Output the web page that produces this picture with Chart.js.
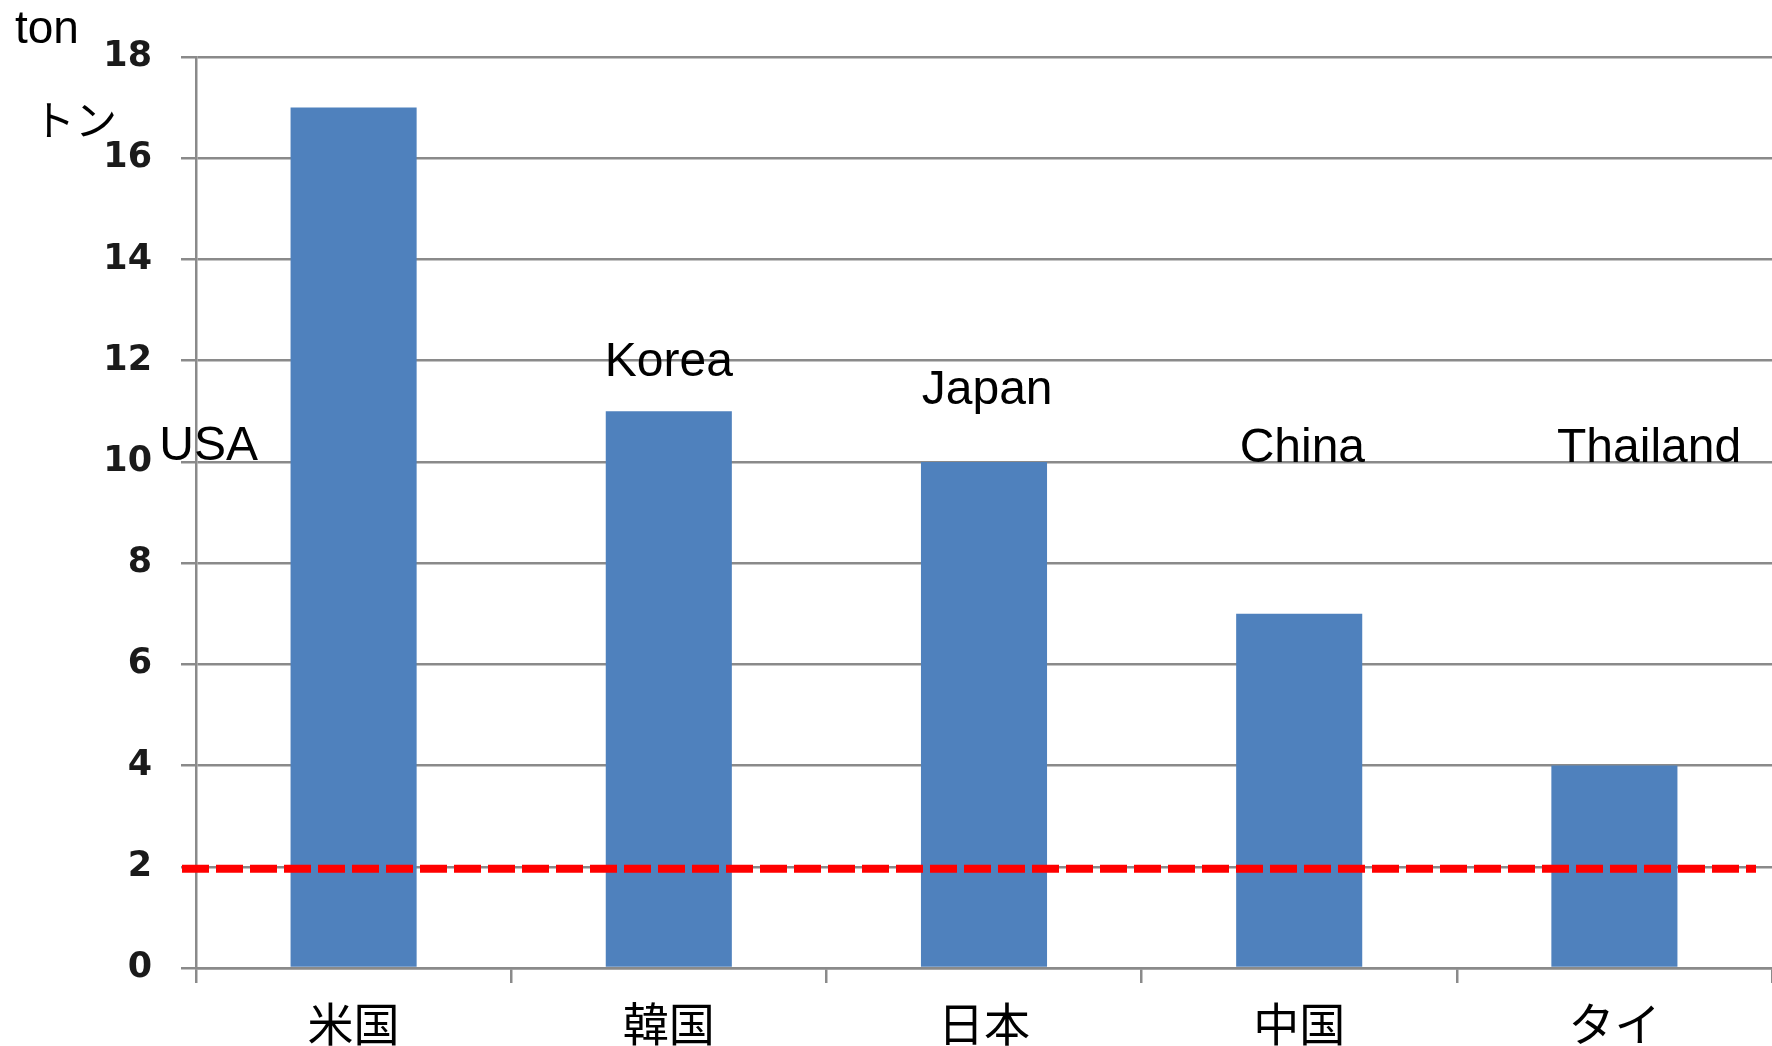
<!DOCTYPE html>
<html>
<head>
<meta charset="utf-8">
<script src="https://cdn.jsdelivr.net/npm/chart.js@4"></script>
<style>
    html, body { margin: 0; padding: 0; background: #ffffff; }
    #wrap { position: relative; width: 1772px; height: 1046px; }
</style>
</head>
<body>
<div id="wrap"><canvas id="volumeChart"></canvas></div>
<script>
const categories = ['米国', '韓国', '日本', '中国', 'タイ'];
const volumes = [17, 11, 10, 7, 4];
const englishNames = ['USA', 'Korea', 'Japan', 'China', 'Thailand'];
const thresholdValue = 2;
const yMax = 18;
const yStep = 2;

const gridGrey = '#8a8a8a';

// english name next to each bar, placed in scale units
const namePlugin = {
    id: 'englishNames',
    afterDatasetsDraw(chart, args, opts) {
        const ctx = chart.ctx;
        const x = chart.scales.x;
        const y = chart.scales.y;
        const step = x.getPixelForValue(1) - x.getPixelForValue(0);
        ctx.save();
        ctx.fillStyle = '#000000';
        ctx.font = '48px "Liberation Sans", Arial, sans-serif';
        ctx.textAlign = 'center';
        ctx.textBaseline = 'alphabetic';
        englishNames.forEach((name, i) => {
            const px = x.getPixelForValue(i) + opts.shift[i] * step;
            const py = y.getPixelForValue(opts.level[i]);
            ctx.fillText(name, px, py);
        });
        ctx.restore();
    }
};

// red dashed limit line
const limitPlugin = {
    id: 'limitLine',
    afterDatasetsDraw(chart) {
        const ctx = chart.ctx;
        const area = chart.chartArea;
        const py = chart.scales.y.getPixelForValue(thresholdValue) + 2;
        ctx.save();
        ctx.strokeStyle = '#ff0000';
        ctx.lineWidth = 8;
        ctx.setLineDash([27, 7]);
        ctx.beginPath();
        ctx.moveTo(area.left - 14, py);
        ctx.lineTo(area.right - 16, py);
        ctx.stroke();
        ctx.restore();
    }
};

// unit labels at the top left
const unitPlugin = {
    id: 'unitLabels',
    afterDraw(chart) {
        const ctx = chart.ctx;
        ctx.save();
        ctx.fillStyle = '#000000';
        ctx.textAlign = 'left';
        ctx.textBaseline = 'alphabetic';
        ctx.font = '46px "Liberation Sans", Arial, sans-serif';
        ctx.fillText('ton', 15, 43);
        ctx.textBaseline = 'middle';
        ctx.font = '42px "Noto Sans CJK JP", sans-serif';
        ctx.fillText('トン', 33, 120);
        ctx.restore();
    }
};

const canvas = document.getElementById('volumeChart').getContext('2d');
const volumeChart = new Chart(canvas, {
    type: 'bar',
    data: {
        labels: categories,
        datasets: [{
            label: 'ton',
            data: volumes,
            backgroundColor: '#4f81bd',
            categoryPercentage: 1,
            barPercentage: 0.4,
        }]
    },
    options: {
        responsive: true,
        maintainAspectRatio: false,
        animation: false,
        layout: {
            padding: { top: 57, right: 0, bottom: 0, left: 0 }
        },
        scales: {
            x: {
                afterFit: function(scale) { scale.height = 78; },
                grid: {
                    offset: true,
                    drawOnChartArea: false,
                    drawTicks: true,
                    tickLength: 15,
                    color: gridGrey,
                    lineWidth: 2.5,
                },
                border: { color: gridGrey, width: 2.5 },
                ticks: {
                    color: '#000000',
                    padding: 13,
                    font: { family: '"Noto Sans CJK JP", sans-serif', size: 46 }
                }
            },
            y: {
                min: 0,
                max: yMax,
                afterFit: function(scale) { scale.width = 196; },
                grid: {
                    color: gridGrey,
                    lineWidth: 2.5,
                    tickLength: 15,
                },
                border: { color: gridGrey, width: 2.5 },
                ticks: {
                    stepSize: yStep,
                    color: '#1a1a1a',
                    padding: 29,
                    font: { family: '"DejaVu Sans", Verdana, sans-serif', size: 35, weight: 'bold' }
                }
            }
        },
        plugins: {
            legend: { display: false },
            tooltip: { enabled: false },
            englishNames: {
                shift: [-0.46, 0, 0.01, 0.01, 0.11],
                level: [10.03, 11.7, 11.15, 10.0, 10.0]
            }
        }
    },
    plugins: [limitPlugin, namePlugin, unitPlugin]
});
</script>
</body>
</html>
